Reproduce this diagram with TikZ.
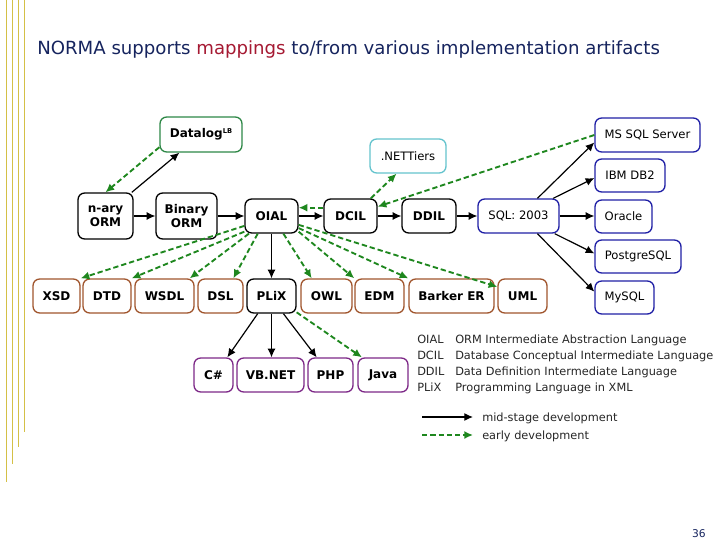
\documentclass[tikz,border=0pt]{standalone}
\usepackage{fontspec}
\setmainfont{DejaVu Sans}
\usetikzlibrary{arrows.meta,calc}
\newdimen\pxu \pxu=0.75pt
\definecolor{navyc}{RGB}{22,36,94}
\definecolor{mapred}{RGB}{165,25,50}
\definecolor{yelc}{RGB}{212,192,70}
\definecolor{greenbox}{RGB}{45,135,70}
\definecolor{greenl}{RGB}{30,135,30}
\definecolor{tealc}{RGB}{100,195,205}
\definecolor{bluec}{RGB}{30,30,165}
\definecolor{brownc}{RGB}{160,85,45}
\definecolor{purplec}{RGB}{125,40,135}
\begin{document}
\begin{tikzpicture}[x=0.75pt,y=-0.75pt,
  sz/.style 2 args={minimum width=#1\pxu, minimum height=#2\pxu},
  box/.style={draw, rounded corners=5pt, line width=1pt, inner sep=0pt, align=center,
    font=\fontsize{9}{10.8}\selectfont\bfseries},
  bk/.style={box, draw=black},
  br/.style={box, draw=brownc},
  pu/.style={box, draw=purplec},
  gr/.style={box, draw=greenbox},
  bl/.style={box, draw=bluec, font=\fontsize{8.7}{10.5}\selectfont},
  te/.style={box, draw=tealc, font=\fontsize{8.7}{10.5}\selectfont},
  blk/.style={-{Latex[length=6.5pt,width=6pt]}, line width=0.9pt, color=black},
  grn/.style={-{Latex[length=6.5pt,width=6pt]}, line width=1.4pt, color=greenl, dash pattern=on 4pt off 2.2pt},
  leg/.style={anchor=base west, inner sep=0pt, font=\fontsize{8.5}{10}\selectfont, text=black!85}
]
\useasboundingbox (0,0) rectangle (728,546);
% left decorative lines
\draw[yelc, line width=0.8pt] (6.5,0) -- (6.5,482);
\draw[yelc, line width=0.8pt] (12.5,0) -- (12.5,464);
\draw[yelc, line width=0.8pt] (18.5,0) -- (18.5,447);
\draw[yelc, line width=0.8pt] (24.5,0) -- (24.5,432);

% title
\node[anchor=base west, inner sep=0pt, text=navyc, font=\fontsize{13.6}{16}\selectfont] (title) at (37,54)
  {NORMA supports \textcolor{mapred}{mappings} to/from various implementation artifacts};

% main chain
\node[gr, sz={82}{35}] (datalog) at (201,134.5) {Datalog\raisebox{0.7ex}{\fontsize{5}{5}\selectfont LB}};
\node[bk, sz={55}{46}] (nary) at (105.5,216) {n-ary\\ORM};
\node[bk, sz={61}{46}] (binary) at (186.5,216) {Binary\\ORM};
\node[bk, sz={53}{34}] (oial) at (271.5,216) {OIAL};
\node[bk, sz={53}{34}] (dcil) at (350.5,216) {DCIL};
\node[bk, sz={54}{34}] (ddil) at (429,216) {DDIL};
\node[te, sz={76}{34}] (net) at (408,156) {.NETTiers};
\node[bl, sz={81}{34}] (sql) at (518.5,216) {SQL: 2003};
\node[bl, sz={105}{34}] (mssql) at (647.5,135) {MS SQL Server};
\node[bl, sz={70}{33}] (ibm) at (630,175.5) {IBM DB2};
\node[bl, sz={57}{33}] (oracle) at (623.5,216.5) {Oracle};
\node[bl, sz={86}{33}] (pg) at (638,256.5) {PostgreSQL};
\node[bl, sz={59}{33}] (mysql) at (624.5,297.5) {MySQL};

% bottom row
\node[br, sz={47}{34}] (xsd) at (56.5,296) {XSD};
\node[br, sz={48}{34}] (dtd) at (107,296) {DTD};
\node[br, sz={59}{34}] (wsdl) at (164.5,296) {WSDL};
\node[br, sz={45}{34}] (dsl) at (220.5,296) {DSL};
\node[bk, sz={49}{34}] (plix) at (271.5,296) {PLiX};
\node[br, sz={51}{34}] (owl) at (326.5,296) {OWL};
\node[br, sz={49}{34}] (edm) at (379.5,296) {EDM};
\node[br, sz={85}{34}] (barker) at (451.5,296) {Barker ER};
\node[br, sz={49}{34}] (uml) at (522.5,296) {UML};

% programming languages
\node[pu, sz={39}{34}] (cs) at (213.5,375) {C\#};
\node[pu, sz={67}{34}] (vbnet) at (270.5,375) {VB.NET};
\node[pu, sz={45}{34}] (php) at (330.5,375) {PHP};
\node[pu, sz={50}{34}] (java) at (383,375) {Java};

% black connectors
\draw[blk] (nary.east) -- (binary.west);
\draw[blk] (binary.east) -- (oial.west);
\draw[blk] (oial.east) -- (dcil.west);
\draw[blk] (dcil.east) -- (ddil.west);
\draw[blk] (ddil.east) -- (sql.west);
\draw[blk] (nary.42) -- (datalog.-140);
\draw[blk] (sql.43) -- (mssql.188);
\draw[blk] (sql.27) -- (ibm.184);
\draw[blk] (sql.east) -- (sql.east -| oracle.west);
\draw[blk] (sql.-26) -- (pg.176);
\draw[blk] (sql.-43) -- (mysql.169);
\draw[blk] (oial.south) -- (plix.north);
\draw[blk] (plix.-128) -- (cs.52);
\draw[blk] (plix.south) -- (plix.south |- vbnet.north);
\draw[blk] (plix.-56) -- (php.128);

% green connectors
\draw[grn] (datalog.197) -- (nary.north);
\draw[grn] (dcil.163) -- (oial.17);
\draw[grn] (dcil.41) -- (net.-123);
\draw[grn] (mssql.west) -- (dcil.19);
\draw[grn] (oial.200) -- (xsd.north east);
\draw[grn] (oial.210) -- (dtd.north east);
\draw[grn] (oial.218) -- (wsdl.35);
\draw[grn] (oial.232) -- (dsl.54);
\draw[grn] (oial.-56) -- (owl.130);
\draw[grn] (oial.-30) -- (edm.north west);
\draw[grn] (oial.-24) -- (barker.north west);
\draw[grn] (oial.-18) -- (uml.160);
\draw[grn] (plix.-33) -- (java.140);

% legend
\node[leg] (k1) at (417,343) {OIAL};
\node[leg] (d1) at (455,343) {ORM Intermediate Abstraction Language};
\node[leg] (k2) at (417,359) {DCIL};
\node[leg] (d2) at (455,359) {Database Conceptual Intermediate Language};
\node[leg] (k3) at (417,375) {DDIL};
\node[leg] (d3) at (455,375) {Data Definition Intermediate Language};
\node[leg] (k4) at (417,391) {PLiX};
\node[leg] (d4) at (455,391) {Programming Language in XML};
\coordinate (la1) at (422,417);
\coordinate (la2) at (473,417);
\coordinate (lb1) at (422,435);
\coordinate (lb2) at (473,435);
\draw[blk] (la1) -- (la2);
\draw[grn] (lb1) -- (lb2);
\node[leg] (m1) at (482,421) {mid-stage development};
\node[leg] (m2) at (482,439) {early development};

% page number
\node[anchor=base east, inner sep=0pt, text=navyc, font=\fontsize{8}{9}\selectfont] (pnum) at (706,537) {36};
\end{tikzpicture}
\end{document}
